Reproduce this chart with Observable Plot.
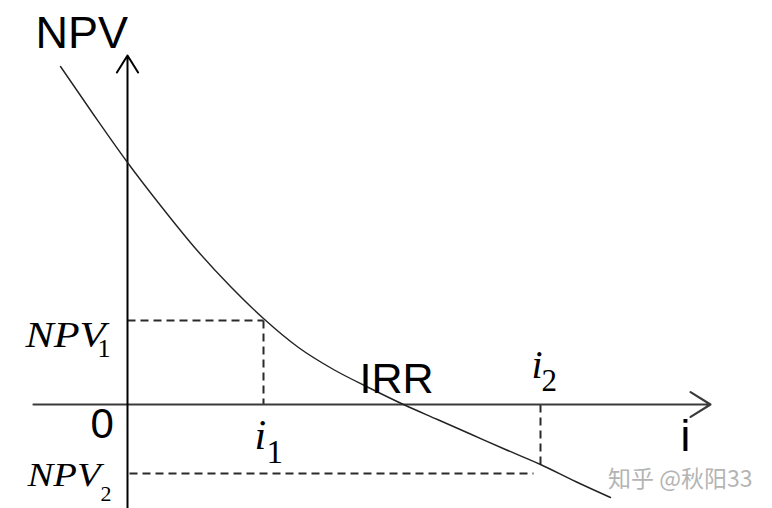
<!DOCTYPE html>
<html>
<head>
<meta charset="utf-8">
<script src="https://cdn.jsdelivr.net/npm/d3@7"></script>
<script src="https://cdn.jsdelivr.net/npm/@observablehq/plot@0.6"></script>
<style>
  html, body { margin: 0; padding: 0; background: #fff; }
  #chart { width: 772px; height: 508px; }
</style>
</head>
<body>
<div id="chart"></div>
<script>
// Curve NPV(i) (arbitrary units)
const curveI   = [-67, -34, 0, 33, 68, 103, 136, 171, 206, 241, 276, 310, 344, 378, 413, 448, 483];
const curveNPV = [338, 290, 242, 199, 156, 118, 86, 57, 35, 17, 0, -15, -30, -45, -60, -77, -93];

// key values
const i1 = 136, NPV1 = 84;
const i2 = 413, NPV2curve = -60, NPV2 = -69;
const IRR = 276;

// axis extents
const iMin = -94, iMax = 583;
const npvMin = -104, npvMax = 349;

const curve = curveI.map((x, k) => ({i: x, npv: curveNPV[k]}));

const serif = "'Liberation Serif', 'Times New Roman', serif";
const sans = "'Liberation Sans', Arial, sans-serif";

const lbl = (x, y, text, opts) => Plot.text([{x, y}], {x: "x", y: "y", text: () => text,
  textAnchor: "start", lineAnchor: "bottom", fill: "#000", ...opts});

const plot = Plot.plot({
  width: 772,
  height: 508,
  margin: 0,
  x: {domain: [-127, 645], axis: null},
  y: {domain: [-104, 404], axis: null},
  style: {background: "#fff", overflow: "visible"},
  marks: [
    // dashed guides
    Plot.link([{x1: 0, y1: NPV1, x2: i1, y2: NPV1}, {x1: i1, y1: NPV1, x2: i1, y2: 0},
               {x1: 2, y1: NPV2, x2: i2 - 7, y2: NPV2}, {x1: i2, y1: 0, x2: i2, y2: NPV2curve}],
      {x1: "x1", y1: "y1", x2: "x2", y2: "y2", stroke: "#2a2a2a", strokeWidth: 2, strokeDasharray: "8,5"}),
    // axes
    Plot.arrow([{x1: iMin, y1: 0, x2: iMax, y2: 0}],
      {x1: "x1", y1: "y1", x2: "x2", y2: "y2", stroke: "#3a3a3a", strokeWidth: 2.2, headLength: 16, headAngle: 64}),
    Plot.arrow([{x1: 0, y1: npvMin, x2: 0, y2: npvMax}],
      {x1: "x1", y1: "y1", x2: "x2", y2: "y2", stroke: "#000", strokeWidth: 2, headLength: 15, headAngle: 64}),
    // curve
    Plot.line(curve, {x: "i", y: "npv", curve: "monotone-x", stroke: "#222", strokeWidth: 1.4}),
    // sans labels
    lbl(0, npvMax, "NPV", {fontFamily: sans, fontSize: 45, dx: -92, dy: -8}),
    lbl(IRR, 0, "IRR", {fontFamily: sans, fontSize: 43, dx: -44, dy: -12}),
    lbl(0, 0, "0", {fontFamily: sans, fontSize: 42, dx: -37, dy: 33}),
    lbl(iMax, 0, "i", {fontFamily: sans, fontSize: 44, dx: -30, dy: 46}),
    // serif italic labels
    lbl(0, NPV1, "NPV", {fontFamily: serif, fontStyle: "italic", fontSize: 35, dx: -102, dy: 26}),
    lbl(0, NPV1, "1", {fontFamily: serif, fontSize: 26, dx: -30, dy: 36}),
    lbl(0, NPV2, "NPV", {fontFamily: serif, fontStyle: "italic", fontSize: 33, dx: -100, dy: 12}),
    lbl(0, NPV2, "2", {fontFamily: serif, fontSize: 22, dx: -27, dy: 27}),
    lbl(i1, 0, "i", {fontFamily: serif, fontStyle: "italic", fontSize: 42, dx: -9, dy: 44}),
    lbl(i1, 0, "1", {fontFamily: serif, fontSize: 33, dx: 3, dy: 58}),
    lbl(i2, 0, "i", {fontFamily: serif, fontStyle: "italic", fontSize: 40, dx: -9, dy: -27}),
    lbl(i2, 0, "2", {fontFamily: serif, fontSize: 31, dx: 1, dy: -14}),
    // watermark
    Plot.text(["知乎 @秋阳33"], {frameAnchor: "bottom-right", text: d => d, fontFamily: "'Noto Sans CJK SC', sans-serif",
      fontSize: 23, textAnchor: "end", lineAnchor: "bottom", dx: -20, dy: -22, fill: "#b4b4b4"})
  ]
});

// the italic NPV labels in the picture are set wider than the font
const italicWidths = [80, 73];
let k = 0;
d3.select(plot).selectAll("g[font-style='italic'] text").each(function () {
  if (this.textContent === "NPV" && k < italicWidths.length) {
    d3.select(this).attr("textLength", italicWidths[k++]).attr("lengthAdjust", "spacingAndGlyphs");
  }
});
document.getElementById("chart").appendChild(plot);
</script>
</body>
</html>
